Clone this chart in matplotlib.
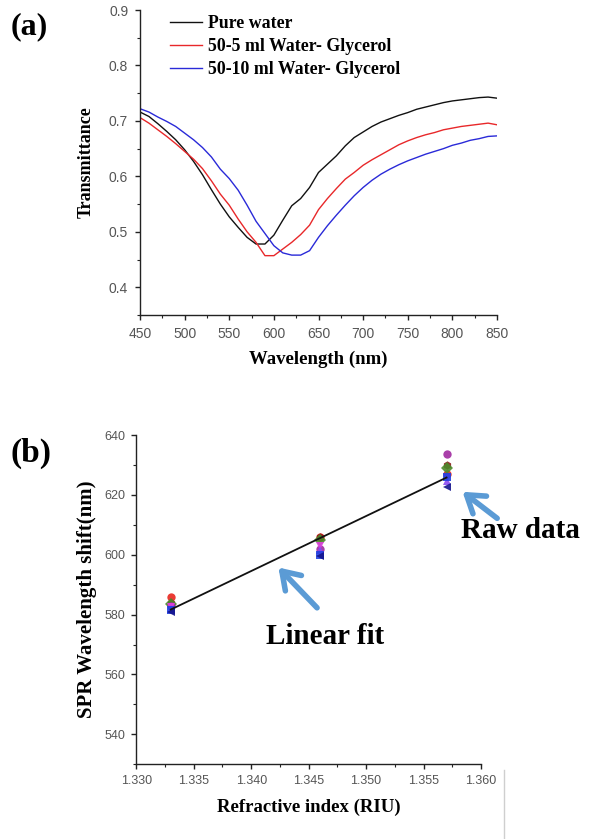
import numpy as np
import matplotlib
matplotlib.use("Agg")
import matplotlib.pyplot as plt
from matplotlib.ticker import MultipleLocator
from matplotlib.lines import Line2D

# ---------------- data: panel (a) ----------------
wavelength = [450, 460, 470, 480, 490, 500, 510, 520, 530, 540, 550, 560, 570, 580,
              590, 600, 610, 620, 630, 640, 650, 660, 670, 680, 690, 700, 710, 720,
              730, 740, 750, 760, 770, 780, 790, 800, 810, 820, 830, 840, 850]
pure_water = [0.716, 0.708, 0.695, 0.681, 0.666, 0.648, 0.627, 0.603, 0.576, 0.550,
              0.527, 0.508, 0.490, 0.478, 0.478, 0.494, 0.521, 0.547, 0.560, 0.580,
              0.607, 0.622, 0.637, 0.655, 0.670, 0.680, 0.690, 0.698, 0.704, 0.710,
              0.715, 0.721, 0.725, 0.729, 0.733, 0.736, 0.738, 0.740, 0.742, 0.743, 0.741]
glycerol_5 = [0.706, 0.696, 0.684, 0.672, 0.659, 0.645, 0.631, 0.614, 0.592, 0.568,
              0.548, 0.523, 0.500, 0.481, 0.457, 0.457, 0.469, 0.481, 0.495, 0.512,
              0.540, 0.560, 0.578, 0.595, 0.607, 0.620, 0.630, 0.639, 0.648, 0.657,
              0.664, 0.670, 0.675, 0.679, 0.684, 0.687, 0.690, 0.692, 0.694, 0.696, 0.693]
glycerol_10 = [0.722, 0.716, 0.707, 0.699, 0.690, 0.678, 0.666, 0.652, 0.635, 0.613,
               0.596, 0.575, 0.548, 0.519, 0.497, 0.475, 0.462, 0.458, 0.458, 0.466,
               0.490, 0.511, 0.530, 0.548, 0.565, 0.580, 0.593, 0.604, 0.613, 0.621,
               0.628, 0.634, 0.640, 0.645, 0.650, 0.656, 0.660, 0.665, 0.668, 0.672, 0.673]
series_labels = ["Pure water", "50-5 ml Water- Glycerol", "50-10 ml Water- Glycerol"]
series_colors = ["#111111", "#e8282a", "#2a2ad8"]

# ---------------- data: panel (b) ----------------
refractive_index = [1.333, 1.346, 1.357]
raw_sets = [
    [586.0, 606.0, 627.0],
    [584.0, 606.0, 630.0],
    [583.5, 605.0, 629.0],
    [583.0, 602.0, 633.5],
    [582.5, 603.0, 625.5],
    [582.0, 601.5, 624.5],
    [581.5, 600.0, 626.0],
    [581.0, 599.5, 622.5],
]
raw_markers = ["o", "h", "D", "o", "v", "^", "s", "<"]
raw_colors = ["#e8261e", "#8b1a1a", "#4a8a2a", "#a02aa0", "#e040e0", "#8a4af0", "#2040e0", "#14148c"]

SERIF = ["Liberation Serif", "DejaVu Serif"]
SANS = ["Liberation Sans", "DejaVu Sans"]

fig = plt.figure(figsize=(5.97, 8.39), dpi=100)
W, H = 597.0, 839.0

def style_axes(ax, tick_size, pad):
    for s in ["top", "right"]:
        ax.spines[s].set_visible(False)
    for s in ["left", "bottom"]:
        ax.spines[s].set_linewidth(1.0)
        ax.spines[s].set_color("#222222")
    ax.tick_params(which="major", direction="out", length=3.5, width=1.0, color="#222222",
                   labelsize=tick_size, labelcolor="#555555", pad=pad)
    ax.tick_params(which="minor", direction="out", length=2.5, width=0.8, color="#222222")
    for lab in ax.get_xticklabels() + ax.get_yticklabels():
        lab.set_family(SANS)

# ---------------- panel (a) ----------------
ax1 = fig.add_axes([140 / W, 1 - 315 / H, (497 - 140) / W, (315 - 10) / H])
for ys, lab, col in zip([pure_water, glycerol_5, glycerol_10], series_labels, series_colors):
    ax1.plot(wavelength, ys, color=col, lw=1.0, label=lab)
ax1.set_xlim(450, 850)
ax1.set_ylim(0.35, 0.9)
ax1.xaxis.set_major_locator(MultipleLocator(50))
ax1.xaxis.set_minor_locator(MultipleLocator(25))
ax1.yaxis.set_major_locator(MultipleLocator(0.1))
ax1.yaxis.set_minor_locator(MultipleLocator(0.05))
ax1.set_yticks([0.4, 0.5, 0.6, 0.7, 0.8, 0.9])
ax1.yaxis.set_major_formatter(matplotlib.ticker.FormatStrFormatter("%.1f"))
style_axes(ax1, 10, 5)
ax1.set_xlabel("Wavelength (nm)", family=SERIF, fontweight="bold", fontsize=13.5, labelpad=7)
ax1.set_ylabel("Transmittance", family=SERIF, fontweight="bold", fontsize=13, labelpad=10)
leg = ax1.legend(loc="upper left", bbox_to_anchor=(170 / W, 1 - 15 / H),
                 bbox_transform=fig.transFigure, frameon=False, borderpad=0,
                 borderaxespad=0, handlelength=1.8, handletextpad=0.35,
                 labelspacing=0.33, prop={"family": SERIF, "weight": "bold", "size": 12.8})
fig.text(11 / W, 1 - 27 / H, "(a)", family=SERIF, fontweight="bold", fontsize=23,
         ha="left", va="center")

# ---------------- panel (b) ----------------
ax2 = fig.add_axes([136.3 / W, 1 - 764.3 / H, (481 - 136.3) / W, (764.3 - 435) / H])
x_all = np.repeat(refractive_index, len(raw_sets))
y_all = np.array(raw_sets).T.ravel()
slope, intercept = np.polyfit(x_all, y_all, 1)
xf = np.array([min(refractive_index), max(refractive_index)])
ax2.plot(xf, slope * xf + intercept, color="#111111", lw=1.3, zorder=3)
for ys, mk, col in zip(raw_sets, raw_markers, raw_colors):
    ax2.plot(refractive_index, ys, linestyle="none", marker=mk, color=col, ms=6,
             markeredgewidth=0, alpha=0.9, zorder=2)
ax2.set_xlim(1.330, 1.360)
ax2.set_ylim(530, 640)
ax2.xaxis.set_major_locator(MultipleLocator(0.005))
ax2.xaxis.set_minor_locator(MultipleLocator(0.0025))
ax2.yaxis.set_major_locator(MultipleLocator(20))
ax2.yaxis.set_minor_locator(MultipleLocator(10))
ax2.set_yticks([540, 560, 580, 600, 620, 640])
ax2.xaxis.set_major_formatter(matplotlib.ticker.FormatStrFormatter("%.3f"))
style_axes(ax2, 9, 4.5)
ax2.set_xlabel("Refractive index (RIU)", family=SERIF, fontweight="bold", fontsize=13.5, labelpad=8)
ax2.set_ylabel("SPR Wavelength shift(nm)", family=SERIF, fontweight="bold", fontsize=15, labelpad=5)

arrow_color = "#5b9bd5"
ax2.annotate("", xy=(1.3422, 596.4), xytext=(1.3459, 581.6),
             arrowprops=dict(arrowstyle="->,head_length=0.6,head_width=0.4",
                             color=arrow_color, lw=4, mutation_scale=20),
             annotation_clip=False)
ax2.annotate("", xy=(1.3582, 621.6), xytext=(1.3616, 611.6),
             arrowprops=dict(arrowstyle="->,head_length=0.6,head_width=0.4",
                             color=arrow_color, lw=4, mutation_scale=20),
             annotation_clip=False)
fig.text(325 / W, 1 - 637 / H, "Linear fit", family=SERIF, fontweight="bold",
         fontsize=21, ha="center", va="center")
fig.text(520 / W, 1 - 530 / H, "Raw data", family=SERIF, fontweight="bold",
         fontsize=21, ha="center", va="center")
fig.text(11 / W, 1 - 453 / H, "(b)", family=SERIF, fontweight="bold", fontsize=24,
         ha="left", va="center")

# stray vertical rule at lower right of the reference image
fig.add_artist(Line2D([504 / W, 504 / W], [0, 1 - 770 / H], color="#cfcfcf", lw=1.0))

fig.savefig("out.png", dpi=100)
